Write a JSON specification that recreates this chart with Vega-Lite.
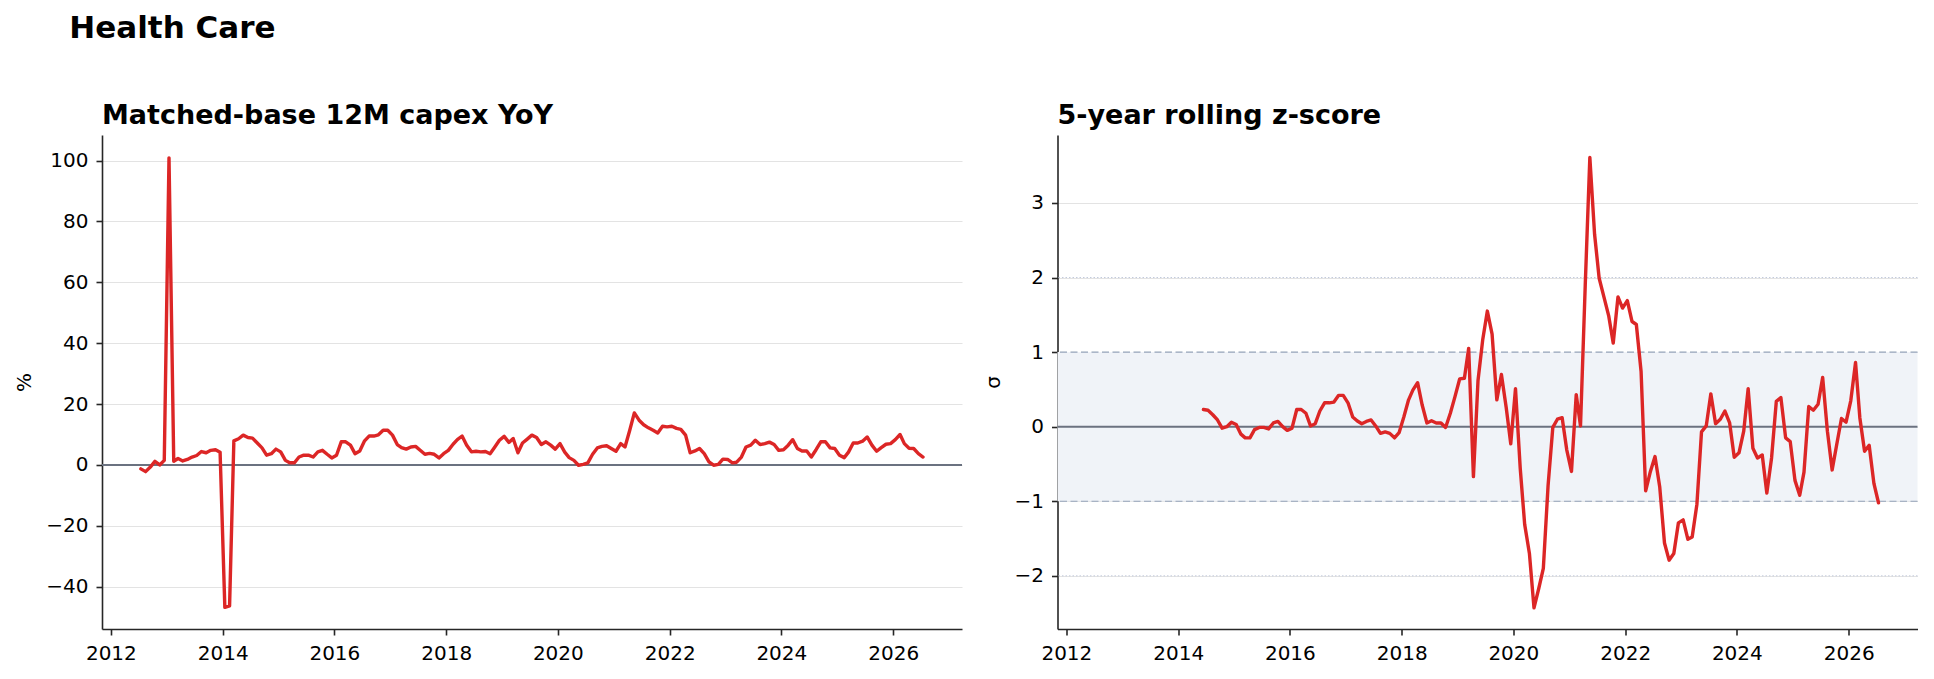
{
  "$schema": "https://vega.github.io/schema/vega-lite/v6.json",
  "background": "white",
  "padding": {"left": 14, "top": 13, "right": 10, "bottom": 10},
  "config": {
    "font": "DejaVu Sans",
    "view": {"stroke": null},
    "axis": {
      "domainColor": "#262626", "domainWidth": 1.6,
      "tickColor": "#262626", "tickWidth": 1.6, "tickSize": 6,
      "labelFont": "DejaVu Sans", "labelFontSize": 20, "labelColor": "#000000",
      "titleFont": "DejaVu Sans", "titleFontSize": 20, "titleFontWeight": "normal", "titleColor": "#000000",
      "gridColor": "#dcdcdc", "gridWidth": 0.8, "labelPadding": 8
    }
  },
  "title": {"text": "Health Care", "anchor": "start", "fontSize": 31, "fontWeight": "bold", "color": "#000000", "dx": 55, "offset": 57, "font": "DejaVu Sans"},
  "spacing": 19.5,
  "datasets": {
    "yoy": [
      {"date":"2012-07-15","yoy":-1.3},{"date":"2012-08-15","yoy":-2.2},{"date":"2012-09-15","yoy":-0.7},{"date":"2012-10-15","yoy":1.2},{"date":"2012-11-15","yoy":0.0},{"date":"2012-12-15","yoy":1.5},
      {"date":"2013-01-15","yoy":100.9},{"date":"2013-02-15","yoy":1.2},{"date":"2013-03-15","yoy":2.1},{"date":"2013-04-15","yoy":1.3},{"date":"2013-05-15","yoy":1.8},{"date":"2013-06-15","yoy":2.6},{"date":"2013-07-15","yoy":3.1},{"date":"2013-08-15","yoy":4.4},{"date":"2013-09-15","yoy":4.0},{"date":"2013-10-15","yoy":4.8},{"date":"2013-11-15","yoy":5.0},{"date":"2013-12-15","yoy":4.2},
      {"date":"2014-01-15","yoy":-46.8},{"date":"2014-02-15","yoy":-46.3},{"date":"2014-03-15","yoy":7.9},{"date":"2014-04-15","yoy":8.6},{"date":"2014-05-15","yoy":9.8},{"date":"2014-06-15","yoy":9.0},{"date":"2014-07-15","yoy":8.8},{"date":"2014-08-15","yoy":7.2},{"date":"2014-09-15","yoy":5.6},{"date":"2014-10-15","yoy":3.2},{"date":"2014-11-15","yoy":3.7},{"date":"2014-12-15","yoy":5.2},
      {"date":"2015-01-15","yoy":4.3},{"date":"2015-02-15","yoy":1.5},{"date":"2015-03-15","yoy":0.7},{"date":"2015-04-15","yoy":0.7},{"date":"2015-05-15","yoy":2.6},{"date":"2015-06-15","yoy":3.2},{"date":"2015-07-15","yoy":3.2},{"date":"2015-08-15","yoy":2.6},{"date":"2015-09-15","yoy":4.3},{"date":"2015-10-15","yoy":4.8},{"date":"2015-11-15","yoy":3.5},{"date":"2015-12-15","yoy":2.3},
      {"date":"2016-01-15","yoy":3.2},{"date":"2016-02-15","yoy":7.6},{"date":"2016-03-15","yoy":7.6},{"date":"2016-04-15","yoy":6.5},{"date":"2016-05-15","yoy":3.7},{"date":"2016-06-15","yoy":4.6},{"date":"2016-07-15","yoy":7.8},{"date":"2016-08-15","yoy":9.5},{"date":"2016-09-15","yoy":9.5},{"date":"2016-10-15","yoy":9.9},{"date":"2016-11-15","yoy":11.4},{"date":"2016-12-15","yoy":11.4},
      {"date":"2017-01-15","yoy":9.8},{"date":"2017-02-15","yoy":6.7},{"date":"2017-03-15","yoy":5.7},{"date":"2017-04-15","yoy":5.2},{"date":"2017-05-15","yoy":5.9},{"date":"2017-06-15","yoy":6.1},{"date":"2017-07-15","yoy":4.8},{"date":"2017-08-15","yoy":3.5},{"date":"2017-09-15","yoy":3.8},{"date":"2017-10-15","yoy":3.5},{"date":"2017-11-15","yoy":2.3},{"date":"2017-12-15","yoy":3.7},
      {"date":"2018-01-15","yoy":4.8},{"date":"2018-02-15","yoy":6.8},{"date":"2018-03-15","yoy":8.3},{"date":"2018-04-15","yoy":9.5},{"date":"2018-05-15","yoy":6.5},{"date":"2018-06-15","yoy":4.3},{"date":"2018-07-15","yoy":4.5},{"date":"2018-08-15","yoy":4.3},{"date":"2018-09-15","yoy":4.4},{"date":"2018-10-15","yoy":3.7},{"date":"2018-11-15","yoy":5.9},{"date":"2018-12-15","yoy":8.1},
      {"date":"2019-01-15","yoy":9.4},{"date":"2019-02-15","yoy":7.4},{"date":"2019-03-15","yoy":8.7},{"date":"2019-04-15","yoy":4.0},{"date":"2019-05-15","yoy":7.2},{"date":"2019-06-15","yoy":8.5},{"date":"2019-07-15","yoy":9.8},{"date":"2019-08-15","yoy":9.0},{"date":"2019-09-15","yoy":6.7},{"date":"2019-10-15","yoy":7.6},{"date":"2019-11-15","yoy":6.5},{"date":"2019-12-15","yoy":5.2},
      {"date":"2020-01-15","yoy":7.0},{"date":"2020-02-15","yoy":4.2},{"date":"2020-03-15","yoy":2.4},{"date":"2020-04-15","yoy":1.5},{"date":"2020-05-15","yoy":-0.1},{"date":"2020-06-15","yoy":0.2},{"date":"2020-07-15","yoy":0.7},{"date":"2020-08-15","yoy":3.5},{"date":"2020-09-15","yoy":5.6},{"date":"2020-10-15","yoy":6.1},{"date":"2020-11-15","yoy":6.3},{"date":"2020-12-15","yoy":5.4},
      {"date":"2021-01-15","yoy":4.5},{"date":"2021-02-15","yoy":7.0},{"date":"2021-03-15","yoy":5.9},{"date":"2021-04-15","yoy":11.4},{"date":"2021-05-15","yoy":17.1},{"date":"2021-06-15","yoy":14.7},{"date":"2021-07-15","yoy":13.2},{"date":"2021-08-15","yoy":12.2},{"date":"2021-09-15","yoy":11.4},{"date":"2021-10-15","yoy":10.5},{"date":"2021-11-15","yoy":12.7},{"date":"2021-12-15","yoy":12.5},
      {"date":"2022-01-15","yoy":12.7},{"date":"2022-02-15","yoy":12.0},{"date":"2022-03-15","yoy":11.7},{"date":"2022-04-15","yoy":9.8},{"date":"2022-05-15","yoy":4.0},{"date":"2022-06-15","yoy":4.6},{"date":"2022-07-15","yoy":5.4},{"date":"2022-08-15","yoy":3.7},{"date":"2022-09-15","yoy":1.0},{"date":"2022-10-15","yoy":-0.1},{"date":"2022-11-15","yoy":0.2},{"date":"2022-12-15","yoy":1.9},
      {"date":"2023-01-15","yoy":1.8},{"date":"2023-02-15","yoy":0.7},{"date":"2023-03-15","yoy":0.9},{"date":"2023-04-15","yoy":2.6},{"date":"2023-05-15","yoy":5.9},{"date":"2023-06-15","yoy":6.5},{"date":"2023-07-15","yoy":8.1},{"date":"2023-08-15","yoy":6.7},{"date":"2023-09-15","yoy":7.0},{"date":"2023-10-15","yoy":7.5},{"date":"2023-11-15","yoy":6.7},{"date":"2023-12-15","yoy":4.8},
      {"date":"2024-01-15","yoy":5.0},{"date":"2024-02-15","yoy":6.5},{"date":"2024-03-15","yoy":8.3},{"date":"2024-04-15","yoy":5.4},{"date":"2024-05-15","yoy":4.6},{"date":"2024-06-15","yoy":4.6},{"date":"2024-07-15","yoy":2.6},{"date":"2024-08-15","yoy":5.0},{"date":"2024-09-15","yoy":7.6},{"date":"2024-10-15","yoy":7.6},{"date":"2024-11-15","yoy":5.6},{"date":"2024-12-15","yoy":5.4},
      {"date":"2025-01-15","yoy":3.2},{"date":"2025-02-15","yoy":2.4},{"date":"2025-03-15","yoy":4.2},{"date":"2025-04-15","yoy":7.2},{"date":"2025-05-15","yoy":7.2},{"date":"2025-06-15","yoy":7.8},{"date":"2025-07-15","yoy":9.2},{"date":"2025-08-15","yoy":6.5},{"date":"2025-09-15","yoy":4.5},{"date":"2025-10-15","yoy":5.7},{"date":"2025-11-15","yoy":6.8},{"date":"2025-12-15","yoy":7.0},
      {"date":"2026-01-15","yoy":8.3},{"date":"2026-02-15","yoy":10.0},{"date":"2026-03-15","yoy":7.0},{"date":"2026-04-15","yoy":5.5},{"date":"2026-05-15","yoy":5.4},{"date":"2026-06-15","yoy":3.7},{"date":"2026-07-15","yoy":2.6}
    ],
    "z": [
      {"date":"2014-06-15","z":0.23},{"date":"2014-07-15","z":0.22},{"date":"2014-08-15","z":0.16},{"date":"2014-09-15","z":0.09},{"date":"2014-10-15","z":-0.02},{"date":"2014-11-15","z":0.0},{"date":"2014-12-15","z":0.06},
      {"date":"2015-01-15","z":0.03},{"date":"2015-02-15","z":-0.10},{"date":"2015-03-15","z":-0.15},{"date":"2015-04-15","z":-0.15},{"date":"2015-05-15","z":-0.04},{"date":"2015-06-15","z":-0.01},{"date":"2015-07-15","z":-0.01},{"date":"2015-08-15","z":-0.03},{"date":"2015-09-15","z":0.05},{"date":"2015-10-15","z":0.07},{"date":"2015-11-15","z":0.0},{"date":"2015-12-15","z":-0.05},
      {"date":"2016-01-15","z":-0.02},{"date":"2016-02-15","z":0.23},{"date":"2016-03-15","z":0.23},{"date":"2016-04-15","z":0.18},{"date":"2016-05-15","z":0.01},{"date":"2016-06-15","z":0.04},{"date":"2016-07-15","z":0.21},{"date":"2016-08-15","z":0.32},{"date":"2016-09-15","z":0.32},{"date":"2016-10-15","z":0.33},{"date":"2016-11-15","z":0.42},{"date":"2016-12-15","z":0.42},
      {"date":"2017-01-15","z":0.32},{"date":"2017-02-15","z":0.13},{"date":"2017-03-15","z":0.08},{"date":"2017-04-15","z":0.04},{"date":"2017-05-15","z":0.07},{"date":"2017-06-15","z":0.09},{"date":"2017-07-15","z":0.01},{"date":"2017-08-15","z":-0.09},{"date":"2017-09-15","z":-0.07},{"date":"2017-10-15","z":-0.09},{"date":"2017-11-15","z":-0.15},{"date":"2017-12-15","z":-0.08},
      {"date":"2018-01-15","z":0.13},{"date":"2018-02-15","z":0.36},{"date":"2018-03-15","z":0.49},{"date":"2018-04-15","z":0.59},{"date":"2018-05-15","z":0.29},{"date":"2018-06-15","z":0.05},{"date":"2018-07-15","z":0.08},{"date":"2018-08-15","z":0.05},{"date":"2018-09-15","z":0.05},{"date":"2018-10-15","z":-0.01},{"date":"2018-11-15","z":0.18},{"date":"2018-12-15","z":0.40},
      {"date":"2019-01-15","z":0.64},{"date":"2019-02-15","z":0.65},{"date":"2019-03-15","z":1.05},{"date":"2019-04-15","z":-0.67},{"date":"2019-05-15","z":0.62},{"date":"2019-06-15","z":1.17},{"date":"2019-07-15","z":1.55},{"date":"2019-08-15","z":1.24},{"date":"2019-09-15","z":0.36},{"date":"2019-10-15","z":0.70},{"date":"2019-11-15","z":0.26},{"date":"2019-12-15","z":-0.23},
      {"date":"2020-01-15","z":0.51},{"date":"2020-02-15","z":-0.56},{"date":"2020-03-15","z":-1.31},{"date":"2020-04-15","z":-1.70},{"date":"2020-05-15","z":-2.43},{"date":"2020-06-15","z":-2.17},{"date":"2020-07-15","z":-1.90},{"date":"2020-08-15","z":-0.79},{"date":"2020-09-15","z":-0.01},{"date":"2020-10-15","z":0.10},{"date":"2020-11-15","z":0.12},{"date":"2020-12-15","z":-0.31},
      {"date":"2021-01-15","z":-0.60},{"date":"2021-02-15","z":0.43},{"date":"2021-03-15","z":0.01},{"date":"2021-04-15","z":1.9},{"date":"2021-05-15","z":3.61},{"date":"2021-06-15","z":2.58},{"date":"2021-07-15","z":1.99},{"date":"2021-08-15","z":1.74},{"date":"2021-09-15","z":1.49},{"date":"2021-10-15","z":1.12},{"date":"2021-11-15","z":1.74},{"date":"2021-12-15","z":1.59},
      {"date":"2022-01-15","z":1.69},{"date":"2022-02-15","z":1.41},{"date":"2022-03-15","z":1.37},{"date":"2022-04-15","z":0.74},{"date":"2022-05-15","z":-0.86},{"date":"2022-06-15","z":-0.60},{"date":"2022-07-15","z":-0.40},{"date":"2022-08-15","z":-0.81},{"date":"2022-09-15","z":-1.56},{"date":"2022-10-15","z":-1.79},{"date":"2022-11-15","z":-1.70},{"date":"2022-12-15","z":-1.29},
      {"date":"2023-01-15","z":-1.25},{"date":"2023-02-15","z":-1.51},{"date":"2023-03-15","z":-1.48},{"date":"2023-04-15","z":-1.04},{"date":"2023-05-15","z":-0.07},{"date":"2023-06-15","z":0.01},{"date":"2023-07-15","z":0.44},{"date":"2023-08-15","z":0.04},{"date":"2023-09-15","z":0.10},{"date":"2023-10-15","z":0.21},{"date":"2023-11-15","z":0.05},{"date":"2023-12-15","z":-0.41},
      {"date":"2024-01-15","z":-0.35},{"date":"2024-02-15","z":-0.06},{"date":"2024-03-15","z":0.51},{"date":"2024-04-15","z":-0.29},{"date":"2024-05-15","z":-0.42},{"date":"2024-06-15","z":-0.38},{"date":"2024-07-15","z":-0.89},{"date":"2024-08-15","z":-0.42},{"date":"2024-09-15","z":0.34},{"date":"2024-10-15","z":0.39},{"date":"2024-11-15","z":-0.15},{"date":"2024-12-15","z":-0.20},
      {"date":"2025-01-15","z":-0.72},{"date":"2025-02-15","z":-0.92},{"date":"2025-03-15","z":-0.61},{"date":"2025-04-15","z":0.27},{"date":"2025-05-15","z":0.22},{"date":"2025-06-15","z":0.30},{"date":"2025-07-15","z":0.66},{"date":"2025-08-15","z":-0.06},{"date":"2025-09-15","z":-0.58},{"date":"2025-10-15","z":-0.24},{"date":"2025-11-15","z":0.11},{"date":"2025-12-15","z":0.06},
      {"date":"2026-01-15","z":0.35},{"date":"2026-02-15","z":0.86},{"date":"2026-03-15","z":0.12},{"date":"2026-04-15","z":-0.33},{"date":"2026-05-15","z":-0.25},{"date":"2026-06-15","z":-0.76},{"date":"2026-07-15","z":-1.02}
    ]
  },
  "hconcat": [
    {
      "width": 860, "height": 494,
      "title": {"text": "Matched-base 12M capex YoY", "anchor": "start", "frame": "group", "fontSize": 27, "fontWeight": "bold", "color": "#000000", "offset": -16, "baseline": "alphabetic"},
      "layer": [
        {
          "data": {"values": [{}]},
          "mark": {"type": "rule", "color": "#6b7280", "strokeWidth": 2},
          "encoding": {"y": {"datum": 0, "type": "quantitative"}}
        },
        {
          "data": {"name": "yoy"},
          "mark": {"type": "line", "color": "#dc2626", "strokeWidth": 3.4, "strokeJoin": "round", "strokeCap": "round"},
          "encoding": {
            "x": {"field": "date", "type": "temporal",
              "scale": {"type": "utc", "domain": [{"year": 2011, "month": 11, "date": 4, "utc": true}, {"year": 2027, "month": 3, "date": 27, "utc": true}]},
              "axis": {"title": null, "grid": false, "format": "%Y",
                "values": [{"year": 2012, "month": 1, "date": 1, "utc": true}, {"year": 2014, "month": 1, "date": 1, "utc": true}, {"year": 2016, "month": 1, "date": 1, "utc": true}, {"year": 2018, "month": 1, "date": 1, "utc": true}, {"year": 2020, "month": 1, "date": 1, "utc": true}, {"year": 2022, "month": 1, "date": 1, "utc": true}, {"year": 2024, "month": 1, "date": 1, "utc": true}, {"year": 2026, "month": 1, "date": 1, "utc": true}]}},
            "y": {"field": "yoy", "type": "quantitative",
              "scale": {"domain": [-53.9, 108.4], "nice": false, "zero": false},
              "axis": {"title": "%", "grid": true, "format": "d", "values": [-40, -20, 0, 20, 40, 60, 80, 100], "titlePadding": 11.5}}
          }
        }
      ]
    },
    {
      "width": 860, "height": 494,
      "title": {"text": "5-year rolling z-score", "anchor": "start", "frame": "group", "fontSize": 27, "fontWeight": "bold", "color": "#000000", "offset": -16, "baseline": "alphabetic"},
      "layer": [
        {
          "data": {"values": [{}]},
          "mark": {"type": "rect", "color": "#f0f3f8"},
          "encoding": {"y": {"datum": -1, "type": "quantitative"}, "y2": {"datum": 1}}
        },
        {
          "data": {"values": [{"lvl": -2}, {"lvl": 2}]},
          "mark": {"type": "rule", "color": "#c3cbdd", "strokeWidth": 1, "strokeDash": [1.5, 2]},
          "encoding": {"y": {"field": "lvl", "type": "quantitative"}}
        },
        {
          "data": {"values": [{"lvl": -1}, {"lvl": 1}]},
          "mark": {"type": "rule", "color": "#94a3b8", "strokeWidth": 1.2, "strokeDash": [7, 3.5]},
          "encoding": {"y": {"field": "lvl", "type": "quantitative"}}
        },
        {
          "data": {"values": [{}]},
          "mark": {"type": "rule", "color": "#6b7280", "strokeWidth": 2},
          "encoding": {"y": {"datum": 0, "type": "quantitative"}}
        },
        {
          "data": {"name": "z"},
          "mark": {"type": "line", "color": "#dc2626", "strokeWidth": 3.4, "strokeJoin": "round", "strokeCap": "round"},
          "encoding": {
            "x": {"field": "date", "type": "temporal",
              "scale": {"type": "utc", "domain": [{"year": 2011, "month": 11, "date": 4, "utc": true}, {"year": 2027, "month": 3, "date": 27, "utc": true}]},
              "axis": {"title": null, "grid": false, "format": "%Y",
                "values": [{"year": 2012, "month": 1, "date": 1, "utc": true}, {"year": 2014, "month": 1, "date": 1, "utc": true}, {"year": 2016, "month": 1, "date": 1, "utc": true}, {"year": 2018, "month": 1, "date": 1, "utc": true}, {"year": 2020, "month": 1, "date": 1, "utc": true}, {"year": 2022, "month": 1, "date": 1, "utc": true}, {"year": 2024, "month": 1, "date": 1, "utc": true}, {"year": 2026, "month": 1, "date": 1, "utc": true}]}},
            "y": {"field": "z", "type": "quantitative",
              "scale": {"domain": [-2.713, 3.911], "nice": false, "zero": false},
              "axis": {"title": "σ", "grid": true, "format": "d", "values": [-2, -1, 0, 1, 2, 3], "titlePadding": 11}}
          }
        }
      ]
    }
  ]
}
